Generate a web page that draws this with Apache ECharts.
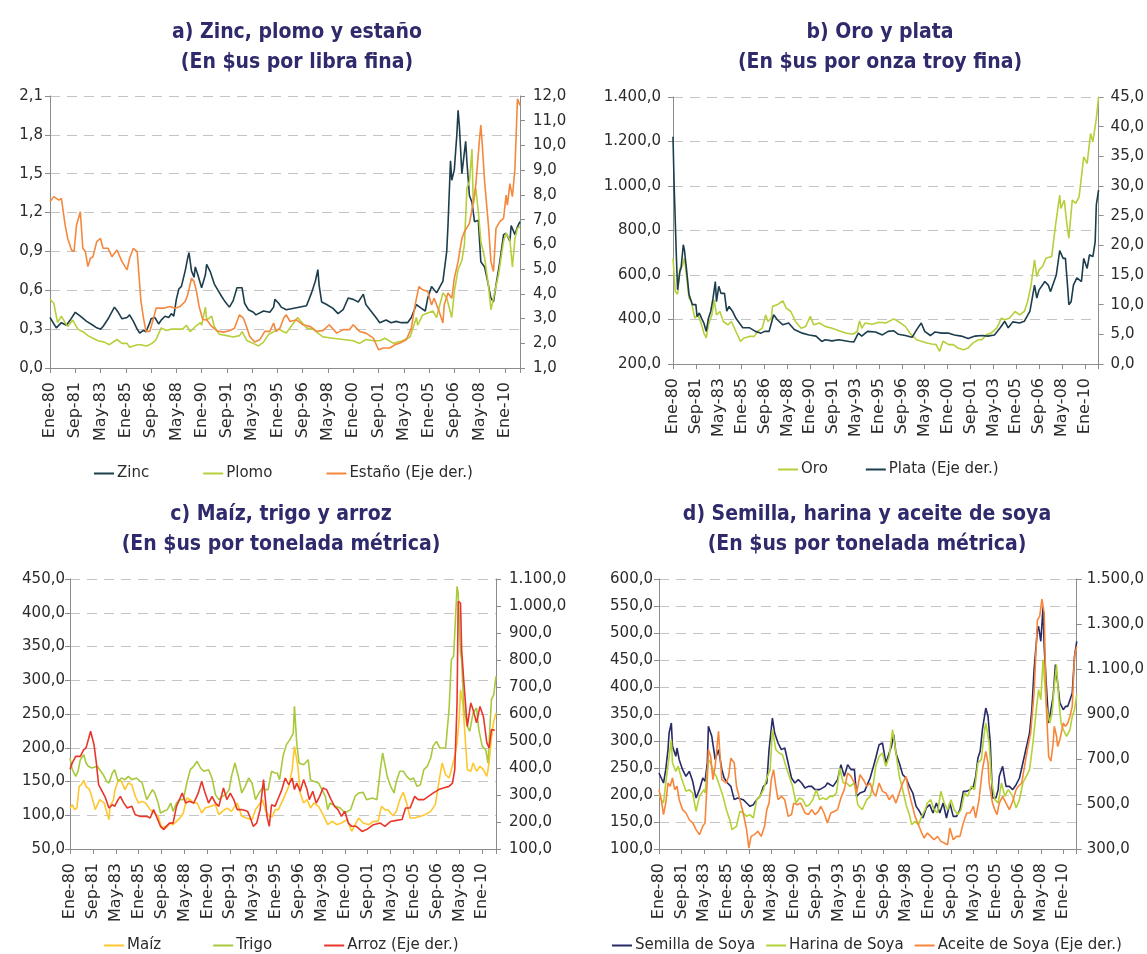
<!DOCTYPE html>
<html>
<head>
<meta charset="utf-8">
<title>Precios de minerales y productos agrícolas</title>
<script src="https://cdn.jsdelivr.net/npm/echarts/dist/echarts.min.js"></script>
<style>
  html, body { margin: 0; padding: 0; background: #fff; }
  #chart { width: 1147px; height: 954px; }
</style>
</head>
<body>
<div id="chart"></div>
<script>
// meses: indice 0 = Ene-80, un punto cada mes hasta Ene-11 (372)
const MONTHS = ['Ene', 'Feb', 'Mar', 'Abr', 'May', 'Jun', 'Jul', 'Ago', 'Sep', 'Oct', 'Nov', 'Dic']
const LAST_MONTH = 372
const TICK_STEP = 20

// a) Zinc, plomo y estaño ($us por libra fina) — [mes, valor]
const zinc = [[0,.39],[5,.31],[9,.35],[13,.33],[16,.37],[20,.43],[24,.40],[29,.36],[34,.33],[37,.31],[40,.30],[42,.32],[46,.38],[51,.47],[54,.43],[57,.38],[61,.39],[63,.41],[66,.36],[69,.30],[71,.27],[74,.29],[76,.28],[79,.35],[80,.38],[83,.39],[86,.34],[88,.37],[91,.40],[94,.39],[96,.42],[98,.40],[100,.53],[102,.61],[104,.63],[107,.75],[109,.85],[110,.89],[112,.75],[114,.70],[115,.78],[117,.72],[120,.62],[123,.72],[124,.80],[127,.74],[130,.65],[133,.60],[136,.55],[138,.52],[142,.47],[145,.52],[148,.62],[152,.62],[154,.50],[157,.45],[161,.43],[163,.41],[169,.44],[174,.43],[177,.47],[178,.53],[181,.50],[183,.47],[187,.45],[192,.46],[203,.48],[207,.58],[210,.67],[212,.76],[213,.64],[215,.51],[219,.49],[224,.46],[228,.42],[232,.45],[236,.54],[240,.53],[244,.51],[248,.57],[250,.49],[254,.44],[258,.39],[261,.35],[266,.37],[270,.35],[274,.36],[278,.35],[283,.35],[286,.39],[290,.49],[294,.46],[297,.44],[299,.54],[302,.63],[306,.58],[311,.67],[314,.90],[315,1.10],[317,1.60],[318,1.45],[320,1.53],[322,1.80],[323,1.99],[324,1.87],[326,1.50],[327,1.49],[329,1.75],[330,1.59],[332,1.33],[334,1.28],[336,1.13],[339,1.14],[341,.82],[344,.78],[347,.64],[349,.54],[351,.51],[353,.64],[356,.82],[359,1.03],[361,1.04],[364,.98],[365,1.10],[368,1.03],[370,1.09],[372,1.13]]
const plomo = [[0,.53],[1,.52],[3,.50],[6,.35],[9,.40],[12,.35],[14,.32],[18,.37],[22,.30],[26,.28],[30,.25],[34,.23],[38,.21],[43,.20],[47,.18],[53,.22],[57,.19],[61,.19],[63,.16],[69,.18],[72,.18],[76,.17],[79,.18],[82,.20],[84,.22],[88,.31],[92,.29],[96,.30],[101,.30],[105,.30],[108,.33],[111,.28],[115,.32],[119,.35],[120,.33],[123,.47],[124,.37],[128,.40],[130,.32],[134,.26],[140,.25],[145,.24],[150,.25],[152,.28],[156,.21],[161,.19],[165,.17],[169,.20],[173,.26],[177,.28],[181,.30],[185,.28],[187,.27],[196,.39],[203,.31],[208,.30],[216,.24],[224,.23],[232,.22],[240,.21],[245,.19],[250,.22],[256,.21],[261,.21],[265,.23],[272,.19],[279,.21],[285,.24],[290,.39],[291,.33],[295,.41],[303,.44],[306,.39],[311,.58],[314,.54],[318,.39],[320,.59],[323,.76],[326,.83],[328,.95],[330,1.39],[332,1.44],[334,1.69],[335,1.26],[337,1.39],[339,1.21],[341,.98],[344,.85],[347,.64],[349,.45],[351,.54],[355,.72],[359,.98],[361,1.04],[364,.99],[366,.78],[368,1.00],[370,1.08],[372,1.09]]
const estano = [[0,7.72],[3,7.93],[7,7.79],[9,7.86],[12,6.78],[14,6.24],[17,5.77],[19,5.71],[21,6.78],[24,7.32],[25,7.32],[26,5.84],[28,5.71],[30,5.10],[32,5.44],[34,5.50],[37,6.11],[40,6.24],[42,5.84],[46,5.84],[49,5.50],[53,5.77],[57,5.30],[61,4.97],[63,5.44],[66,5.84],[69,5.71],[71,4.36],[72,3.69],[74,3.02],[76,2.48],[79,2.48],[82,3.02],[84,3.42],[90,3.42],[95,3.49],[99,3.42],[103,3.49],[107,3.69],[109,3.96],[112,4.63],[114,4.50],[116,4.09],[118,3.49],[121,2.95],[124,2.95],[128,2.68],[132,2.51],[137,2.45],[142,2.51],[146,2.61],[150,3.15],[153,3.02],[156,2.61],[158,2.28],[162,2.05],[166,2.14],[170,2.48],[174,2.48],[177,2.82],[179,2.48],[182,2.61],[185,3.02],[187,3.15],[190,2.88],[195,2.95],[200,2.75],[206,2.68],[211,2.48],[216,2.51],[221,2.75],[227,2.41],[232,2.55],[237,2.55],[240,2.75],[245,2.48],[250,2.41],[256,2.21],[260,1.74],[264,1.81],[269,1.81],[273,1.94],[277,2.01],[282,2.14],[286,2.61],[289,3.55],[292,4.29],[295,4.16],[299,4.09],[302,3.55],[304,3.82],[308,3.29],[311,2.82],[312,3.55],[315,4.03],[318,3.82],[320,4.63],[323,5.30],[326,6.24],[328,6.51],[332,6.85],[335,7.72],[337,8.40],[340,10.28],[341,10.82],[342,10.14],[344,8.53],[347,6.78],[349,5.30],[351,4.90],[353,6.65],[356,6.92],[359,7.05],[361,7.99],[362,7.59],[364,8.46],[366,7.93],[368,9.07],[370,11.89],[372,11.62]]

// b) Oro y plata ($us por onza troy fina)
const oro = [[0,675],[2,526],[4,514],[6,630],[8,638],[10,675],[12,586],[14,496],[16,481],[19,406],[22,421],[25,376],[27,339],[29,317],[31,376],[34,421],[36,488],[38,421],[41,436],[44,391],[48,376],[51,391],[55,346],[59,302],[62,317],[67,324],[71,324],[74,346],[78,361],[81,421],[83,391],[86,406],[87,459],[91,466],[96,484],[99,451],[103,436],[107,391],[112,361],[116,369],[120,414],[123,376],[128,384],[133,369],[139,361],[145,349],[151,339],[157,334],[161,346],[163,394],[165,361],[168,384],[174,379],[180,388],[186,384],[193,403],[197,391],[203,369],[207,339],[213,309],[217,302],[222,294],[226,290],[230,287],[233,257],[236,302],[241,287],[245,287],[249,272],[254,264],[258,272],[262,294],[267,309],[270,309],[274,332],[278,339],[283,361],[287,406],[290,399],[294,406],[299,436],[303,421],[307,436],[310,481],[313,556],[316,668],[318,593],[320,623],[323,638],[326,675],[331,683],[334,810],[338,959],[339,899],[342,937],[344,840],[346,765],[349,937],[352,922],[355,952],[359,1131],[362,1101],[365,1236],[367,1198],[370,1303],[372,1400]]
const plata = [[0,38.3],[1,30.1],[3,17.8],[4,12.5],[6,15.6],[7,16.1],[9,20.1],[10,19.2],[12,15.6],[14,11.7],[17,10.0],[20,10.0],[21,8.0],[23,8.6],[25,7.7],[27,6.9],[29,5.5],[31,7.7],[33,8.9],[35,11.1],[37,13.9],[38,10.5],[40,13.1],[42,11.9],[45,11.9],[47,8.9],[49,9.7],[52,8.9],[55,7.7],[58,6.9],[61,6.1],[67,6.1],[72,5.5],[77,5.2],[80,5.5],[84,5.5],[88,8.3],[91,7.5],[96,6.6],[101,6.9],[106,5.8],[113,5.2],[119,4.9],[125,4.7],[130,3.8],[133,4.1],[139,3.9],[145,4.1],[154,3.8],[158,3.7],[162,5.2],[165,4.7],[170,5.5],[177,5.4],[183,4.9],[188,5.5],[193,5.6],[197,5.0],[203,4.8],[209,4.5],[213,5.8],[217,6.9],[220,5.5],[225,4.8],[229,5.4],[235,5.2],[241,5.2],[246,4.9],[252,4.7],[258,4.3],[264,4.7],[270,4.8],[275,4.7],[281,4.9],[286,6.1],[290,7.2],[293,6.1],[297,7.1],[303,6.9],[307,7.2],[312,8.9],[314,11.1],[316,13.3],[318,11.1],[320,12.5],[325,13.9],[328,13.3],[330,12.2],[335,15.0],[338,19.1],[341,17.8],[343,17.8],[345,12.8],[346,10.0],[348,10.5],[350,13.3],[353,14.5],[357,13.9],[359,17.8],[362,16.1],[364,18.4],[367,18.1],[369,20.6],[370,26.8],[372,29.3]]

// c) Maíz, trigo y arroz ($us por tonelada métrica)
const maiz = [[0,110.7],[2,115.7],[4,108.3],[6,110.7],[8,142.8],[10,145.3],[12,151.7],[14,142.8],[17,137.9],[19,128],[22,108.3],[24,115.7],[26,123.1],[30,118.1],[31,110.7],[34,93.5],[35,113.2],[38,123.1],[39,135.4],[42,151.7],[45,150.2],[48,137.9],[51,147.8],[54,145.3],[57,128],[60,118.1],[63,120.6],[66,118.1],[70,108.3],[74,103.3],[77,98.4],[80,81.1],[82,83.6],[84,81.1],[87,88.5],[90,86],[93,91],[96,95.9],[99,103.3],[102,125.6],[105,123.1],[108,118.1],[111,118.1],[115,103.3],[118,110.7],[123,113.2],[127,115.7],[130,100.9],[133,105.8],[137,110.7],[141,105.8],[146,118.1],[150,98.4],[154,95.9],[159,93.5],[162,108.3],[165,115.7],[168,123.1],[171,105.8],[174,98.4],[177,98.4],[179,108.3],[182,108.3],[186,123.1],[191,142.8],[194,167.5],[196,202.1],[197,204.6],[199,172.5],[201,133],[204,118.1],[207,123.1],[210,110.7],[213,118.1],[217,113.2],[221,100.9],[225,86],[229,91],[233,86],[237,88.5],[242,93.5],[246,76.2],[249,86],[252,95.9],[256,88.5],[261,86],[265,91],[269,91],[272,113.2],[275,108.3],[278,107.3],[282,99.4],[285,105.8],[288,123.1],[291,133.9],[294,118.1],[297,95.9],[301,95.9],[306,98.4],[310,100.9],[315,105.8],[319,115.7],[322,147.8],[325,177.4],[328,160.1],[331,155.2],[333,167.5],[336,187.3],[338,207],[340,246.5],[341,286],[343,266.3],[345,216.9],[347,167.5],[350,165.1],[352,177.4],[355,165.1],[358,172.5],[361,167.5],[364,157.6],[366,177.4],[368,214.4],[370,239.1],[372,251.5]]
const trigo = [[0,184.8],[2,167.5],[5,157.6],[7,165.1],[9,182.3],[12,189.7],[14,177.4],[16,172.5],[19,170],[24,172.5],[26,167.5],[29,160.1],[32,150.2],[34,147.8],[37,162.6],[39,167.5],[42,150.2],[45,155.2],[48,152.7],[51,157.6],[54,152.7],[58,155.2],[63,147.8],[67,123.1],[72,137.9],[74,133],[77,118.1],[79,103.3],[82,105.8],[85,108.3],[88,118.1],[90,105.8],[93,118.1],[96,123.1],[99,123.1],[102,147.8],[105,167.5],[108,172.5],[111,179.9],[114,170],[117,165.1],[121,167.5],[124,155.2],[127,130.5],[130,123.1],[133,128],[136,130.5],[139,137.9],[141,157.6],[144,177.4],[147,157.6],[150,133],[153,142.8],[156,155.2],[159,147.8],[162,123.1],[165,133],[168,140.4],[170,137.9],[173,137.9],[176,165.1],[179,162.6],[181,162.6],[183,152.7],[186,187.3],[189,204.6],[192,212],[195,221.8],[196,261.3],[198,207],[200,177.4],[204,174.9],[208,182.3],[210,152.7],[213,150.2],[217,147.8],[220,137.9],[223,128],[225,108.3],[227,118.1],[232,113.2],[236,110.7],[240,103.3],[245,108.3],[249,128],[252,133],[256,133.9],[259,123.1],[264,125.6],[268,123.1],[271,167.5],[273,192.2],[277,157.6],[280,142.8],[283,133],[285,150.2],[288,165.1],[291,165.1],[294,157.6],[297,152.7],[300,155.2],[303,142.8],[306,145.3],[309,167.5],[312,172.5],[315,184.8],[317,202.1],[320,209.5],[323,199.6],[328,199.6],[331,256.4],[333,330.5],[335,335.4],[336,370],[338,439.1],[339,429.2],[341,340.4],[342,330.5],[344,256.4],[347,231.7],[349,224.3],[352,251.5],[355,258.9],[357,226.8],[360,202.1],[363,197.2],[365,177.4],[368,271.2],[370,278.6],[372,305.8]]
const arroz = [[0,396],[2,419],[5,443],[9,443],[12,468],[14,474],[16,505],[18,536],[21,486],[23,419],[25,338],[28,314],[31,289],[34,252],[37,264],[39,258],[42,283],[44,295],[47,270],[50,252],[54,258],[57,227],[61,221],[67,221],[70,215],[73,246],[76,215],[79,184],[82,172],[84,184],[87,196],[90,196],[93,258],[98,307],[101,270],[104,277],[108,270],[112,307],[115,351],[118,307],[121,270],[124,295],[127,270],[130,258],[134,326],[137,283],[140,307],[143,283],[146,246],[150,246],[155,240],[157,221],[160,184],[163,196],[166,246],[169,357],[172,221],[174,184],[176,264],[179,258],[182,289],[185,320],[188,363],[191,338],[194,363],[196,320],[198,344],[201,314],[204,357],[207,320],[209,283],[212,314],[215,270],[218,295],[221,326],[224,320],[228,283],[231,258],[234,246],[237,221],[240,240],[243,196],[246,184],[250,184],[255,165],[259,172],[265,190],[271,196],[275,184],[280,202],[285,206],[290,209],[293,252],[297,252],[301,295],[304,283],[309,283],[313,295],[317,307],[322,320],[326,326],[331,332],[334,344],[336,394],[338,641],[339,1017],[341,1011],[342,838],[344,715],[346,604],[347,554],[350,641],[352,616],[355,567],[358,628],[361,591],[364,493],[366,474],[368,542],[371,540]]

// d) Semilla, harina y aceite de soya ($us por tonelada métrica)
const semilla = [[0,240.7],[1,243.8],[4,222.2],[5,219.1],[6,246.9],[8,284],[9,314.8],[11,333.3],[12,290.1],[15,271.6],[16,287],[18,265.4],[21,246.9],[24,234.6],[27,243.8],[30,225.3],[33,194.4],[36,209.9],[39,231.5],[41,225.3],[43,259.3],[44,327.2],[47,308.6],[49,280.9],[50,265.4],[53,284],[56,246.9],[58,231.5],[61,222.2],[64,216],[67,191.4],[70,194.4],[75,191.4],[78,185.2],[81,179],[84,182.1],[87,191.4],[90,197.5],[93,216],[96,222.2],[98,284],[101,342.6],[103,314.8],[106,296.3],[109,284],[112,287],[115,259.3],[118,231.5],[121,222.2],[124,228.4],[127,222.2],[130,213],[133,216],[136,216],[139,209.9],[143,209.9],[148,216],[150,222.2],[155,216],[159,228.4],[162,256.2],[165,234.6],[168,256.2],[171,246.9],[174,246.9],[176,197.5],[179,203.7],[183,206.8],[188,231.5],[191,253.1],[193,268.5],[196,293.2],[199,296.3],[202,259.3],[207,290.1],[209,311.7],[211,277.8],[214,259.3],[217,237.7],[220,231.5],[223,216],[226,203.7],[229,179],[232,169.8],[235,157.4],[238,175.9],[241,182.1],[244,166.7],[247,185.2],[250,166.7],[253,185.2],[256,157.4],[259,185.2],[262,160.5],[265,160.5],[268,172.8],[271,206.8],[274,206.8],[277,209.9],[280,216],[282,234.6],[284,268.5],[286,280.9],[288,321],[291,361.1],[293,345.7],[295,296.3],[297,194.4],[300,194.4],[302,209.9],[303,234.6],[306,253.1],[308,228.4],[309,216],[312,216],[315,209.9],[318,219.1],[321,231.5],[324,259.3],[326,277.8],[330,314.8],[332,358],[334,432.1],[337,506.2],[338,512.3],[340,484.6],[342,548],[343,475.3],[345,401.2],[347,333.3],[349,358],[351,382.7],[353,441.4],[355,407.4],[357,370.4],[360,358],[362,364.2],[364,364.2],[366,376.5],[368,388.9],[370,456.8],[372,484.6]]
const harina = [[0,200.6],[2,191.4],[4,185.2],[6,222.2],[9,271.6],[11,302.5],[12,259.3],[15,243.8],[17,253.1],[20,231.5],[24,206.8],[27,209.9],[30,203.7],[33,169.8],[36,197.5],[40,209.9],[41,203.7],[44,265.4],[46,259.3],[49,240.7],[51,234.6],[54,216],[57,197.5],[60,172.8],[63,154.3],[65,135.8],[69,142],[72,169.8],[75,166.7],[78,160.5],[81,163.6],[84,157.4],[87,191.4],[90,197.5],[93,209.9],[96,231.5],[99,246.9],[101,321],[104,284],[107,277.8],[110,274.7],[113,253.1],[116,234.6],[119,216],[122,185.2],[125,194.4],[128,191.4],[131,179],[134,182.1],[137,191.4],[140,209.9],[143,191.4],[146,194.4],[149,191.4],[152,197.5],[155,197.5],[158,203.7],[161,250],[164,222.2],[167,222.2],[170,216],[174,222.2],[177,182.1],[181,172.8],[185,191.4],[188,197.5],[191,222.2],[193,253.1],[196,271.6],[199,277.8],[202,253.1],[205,271.6],[208,321],[211,277.8],[214,234.6],[217,209.9],[220,182.1],[223,163.6],[225,145.1],[228,151.2],[231,145.1],[234,160.5],[237,172.8],[239,185.2],[242,191.4],[245,172.8],[248,166.7],[251,206.8],[254,185.2],[257,172.8],[260,191.4],[263,172.8],[266,163.6],[269,172.8],[272,203.7],[275,197.5],[278,216],[281,209.9],[284,259.3],[287,265.4],[290,321],[291,333.3],[294,296.3],[296,228.4],[299,191.4],[302,185.2],[305,222.2],[308,197.5],[311,209.9],[315,197.5],[318,175.9],[321,191.4],[324,222.2],[327,234.6],[330,246.9],[333,296.3],[336,358],[338,395.1],[340,376.5],[342,450.6],[345,364.2],[348,333.3],[350,351.9],[352,401.2],[354,441.4],[356,376.5],[358,333.3],[360,321],[363,308.6],[366,321],[368,345.7],[370,358],[372,385.8]]
const aceite = [[0,564],[2,519],[4,453],[6,504],[8,593],[10,579],[12,616],[14,564],[16,579],[18,519],[21,475],[24,460],[27,430],[30,416],[33,386],[36,364],[39,401],[41,416],[43,608],[44,741],[46,712],[48,608],[50,667],[53,823],[54,741],[56,608],[60,593],[62,623],[64,704],[67,682],[69,579],[72,519],[75,460],[78,386],[80,304],[82,356],[85,364],[88,379],[91,356],[94,401],[96,475],[98,504],[100,608],[102,653],[104,579],[106,519],[109,534],[112,519],[115,445],[118,453],[120,504],[123,497],[126,504],[130,460],[133,453],[136,475],[139,453],[142,467],[144,490],[147,460],[150,416],[153,460],[156,467],[159,475],[162,527],[165,564],[168,638],[171,623],[174,593],[176,549],[179,630],[182,608],[185,579],[188,593],[191,549],[193,534],[196,593],[199,556],[202,549],[205,519],[208,541],[211,504],[214,549],[217,593],[220,623],[222,564],[225,504],[228,445],[231,408],[234,371],[236,349],[239,371],[242,356],[245,341],[248,356],[251,334],[254,327],[257,319],[259,393],[262,341],[265,356],[268,356],[271,416],[274,460],[277,460],[280,490],[282,438],[285,519],[288,653],[291,734],[293,682],[294,593],[297,504],[299,475],[301,453],[303,504],[306,534],[309,504],[312,475],[315,512],[318,564],[320,579],[323,593],[325,653],[328,741],[331,816],[334,993],[337,1319],[339,1334],[341,1411],[343,1349],[344,1127],[345,919],[347,712],[349,690],[351,771],[352,845],[354,801],[355,756],[357,786],[360,860],[362,845],[364,860],[366,890],[368,934],[370,1156],[372,1201]]

const TEXT_FONT = "'DejaVu Sans', 'Liberation Sans', sans-serif"
const TITLE_FONT = "'Liberation Sans Narrow', 'DejaVu Sans Condensed', 'Roboto', sans-serif"

// 1.400,0 / 0,9 — separador de miles "." y decimal ","
function fmtNum(v) {
  const parts = Number(v).toFixed(1).split('.')
  return parts[0].replace(/\B(?=(\d{3})+(?!\d))/g, '.') + ',' + parts[1]
}

function monthLabel(v) {
  const i = Math.round(v)
  if (i % TICK_STEP !== 0 || i >= LAST_MONTH) return ''
  const yy = (80 + Math.floor(i / 12)) % 100
  return MONTHS[i % 12] + '-' + String(yy).padStart(2, '0')
}

function makeXAxis(gridIndex) {
  return {
    type: 'value',
    gridIndex: gridIndex,
    min: 0,
    max: LAST_MONTH,
    interval: TICK_STEP,
    axisLine: { show: true, lineStyle: { color: '#8c8c8c' } },
    axisTick: { show: true, length: 5, lineStyle: { color: '#8c8c8c' } },
    splitLine: { show: false },
    axisLabel: {
      rotate: 90,
      margin: 14,
      color: '#2b2b2b',
      fontSize: 16,
      fontFamily: TEXT_FONT,
      formatter: monthLabel
    }
  }
}

function makeYAxis(gridIndex, position, min, max, interval, margin) {
  const left = position === 'left'
  return {
    type: 'value',
    gridIndex: gridIndex,
    position: position,
    min: min,
    max: max,
    interval: interval,
    axisLine: { show: true, lineStyle: { color: '#8c8c8c' } },
    axisTick: { show: true, length: 5, lineStyle: { color: '#8c8c8c' } },
    axisLabel: {
      margin: margin,
      color: '#2b2b2b',
      fontSize: 15,
      fontFamily: TEXT_FONT,
      formatter: fmtNum
    },
    // solo el eje izquierdo lleva la grilla punteada
    splitLine: {
      show: left,
      lineStyle: { color: '#c4c4c4', type: [10, 7], width: 1 }
    }
  }
}

function makeLine(name, data, color, axisIndex, yAxisIndex) {
  return {
    name: name,
    type: 'line',
    xAxisIndex: axisIndex,
    yAxisIndex: yAxisIndex,
    data: data,
    showSymbol: false,
    symbol: 'none',
    color: color,
    lineStyle: { color: color, width: 1.6 },
    emphasis: { disabled: true }
  }
}

function makeTitle(text, x, y) {
  return {
    text: text,
    left: x,
    top: y,
    textAlign: 'center',
    textStyle: {
      color: '#2e2a6b',
      fontSize: 21,
      fontWeight: 'bold',
      fontFamily: TITLE_FONT,
      lineHeight: 30
    }
  }
}

function makeLegend(names, x, y, gap) {
  return {
    data: names,
    left: x,
    top: y,
    padding: 0,
    itemGap: gap,
    itemWidth: 20,
    itemHeight: 2,
    icon: 'rect',
    selectedMode: false,
    textStyle: { color: '#2b2b2b', fontSize: 15, fontFamily: TEXT_FONT, padding: [0, 0, 0, -2] }
  }
}

const C_DARK = '#1c3d4c'
const C_LIME = '#b7cf3b'
const C_ORANGE = '#f4883e'

const myChart = echarts.init(document.getElementById('chart'), null, { renderer: 'canvas' })

const option = {
  backgroundColor: '#fff',
  animation: false,
  title: [
    makeTitle('a) Zinc, plomo y estaño\n(En $us por libra fina)', 292, 13),
    makeTitle('b) Oro y plata\n(En $us por onza troy fina)', 875, 13),
    makeTitle('c) Maíz, trigo y arroz\n(En $us por tonelada métrica)', 276, 495),
    makeTitle('d) Semilla, harina y aceite de soya\n(En $us por tonelada métrica)', 862, 495)
  ],
  legend: [
    makeLegend(['Zinc', 'Plomo', 'Estaño (Eje der.)'], 94, 466, 54),
    makeLegend(['Oro', 'Plata (Eje der.)'], 778, 462, 38),
    makeLegend(['Maíz', 'Trigo', 'Arroz (Eje der.)'], 104, 938, 52),
    makeLegend(['Semilla de Soya', 'Harina de Soya', 'Aceite de Soya (Eje der.)'], 612, 938, 11)
  ],
  grid: [
    { left: 50, top: 96, width: 470, height: 272 },
    { left: 673, top: 97, width: 428, height: 267 },
    { left: 70, top: 579, width: 426, height: 270 },
    { left: 659, top: 579, width: 419, height: 270 }
  ],
  xAxis: [makeXAxis(0), makeXAxis(1), makeXAxis(2), makeXAxis(3)],
  yAxis: [
    makeYAxis(0, 'left', 0, 2.1, 0.3, 7),
    makeYAxis(0, 'right', 1, 12, 1, 13),
    makeYAxis(1, 'left', 200, 1400, 200, 12),
    makeYAxis(1, 'right', 0, 45, 5, 12),
    makeYAxis(2, 'left', 50, 450, 50, 5),
    makeYAxis(2, 'right', 100, 1100, 100, 13),
    makeYAxis(3, 'left', 100, 600, 50, 6),
    makeYAxis(3, 'right', 300, 1500, 200, 10)
  ],
  series: [
    makeLine('Zinc', zinc, C_DARK, 0, 0),
    makeLine('Plomo', plomo, C_LIME, 0, 0),
    makeLine('Estaño (Eje der.)', estano, C_ORANGE, 0, 1),
    makeLine('Oro', oro, C_LIME, 1, 2),
    makeLine('Plata (Eje der.)', plata, C_DARK, 1, 3),
    makeLine('Maíz', maiz, '#ffc62e', 2, 4),
    makeLine('Trigo', trigo, '#a8c93b', 2, 4),
    makeLine('Arroz (Eje der.)', arroz, '#e8362b', 2, 5),
    makeLine('Semilla de Soya', semilla, '#262a66', 3, 6),
    makeLine('Harina de Soya', harina, '#b3d236', 3, 6),
    makeLine('Aceite de Soya (Eje der.)', aceite, '#f7863a', 3, 7)
  ]
}

myChart.setOption(option)
window.addEventListener('resize', function() {
  myChart.resize()
})
</script>
</body>
</html>
